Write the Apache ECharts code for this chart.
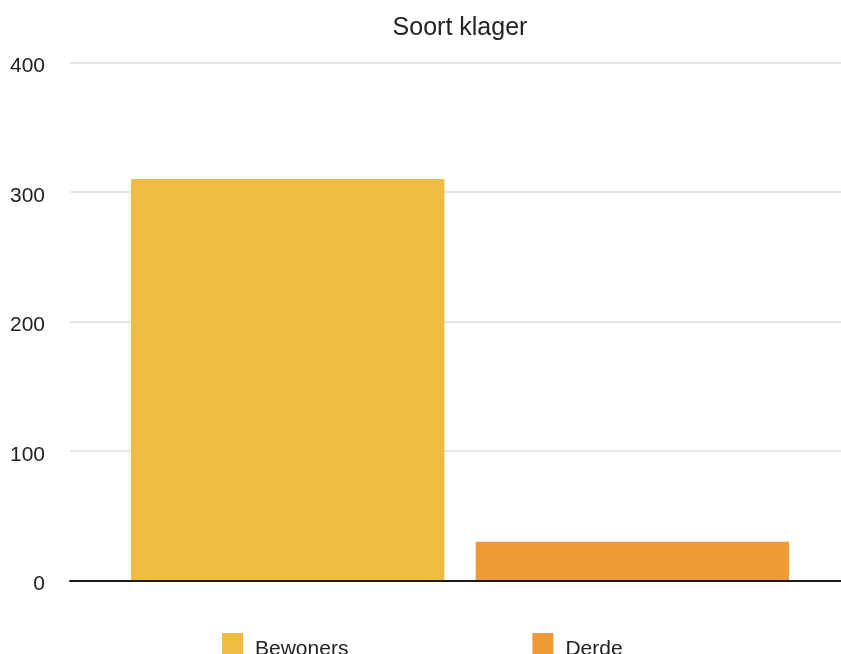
<!DOCTYPE html>
<html>
<head>
<meta charset="utf-8">
<script src="https://cdn.jsdelivr.net/npm/echarts@6/dist/echarts.min.js"></script>
<style>
  html, body { margin: 0; padding: 0; background: #fff; }
  #chart { width: 841px; height: 654px; }
</style>
</head>
<body>
<div id="chart"></div>
<script>
// Complaint counts by type of complainant
const titleText = 'Soort klager';
const categories = ['Soort klager'];
const seriesNames = ['Bewoners', 'Derde'];
const bewonersValues = [310];
const derdeValues = [30];
const seriesColors = ['#EEBD40', '#EF9A37'];
const yTicks = [0, 100, 200, 300, 400];

const font = '"Liberation Sans", Arial, Helvetica, sans-serif';
const yMin = yTicks[0];
const yMax = yTicks[yTicks.length - 1];
const chart = echarts.init(document.getElementById('chart'));

chart.setOption({
  animation: false,
  backgroundColor: '#ffffff',
  title: {
    text: titleText,
    left: 455,
    textAlign: 'center',
    top: 11,
    textStyle: { fontFamily: font, fontSize: 25, fontWeight: 'normal', color: '#222' }
  },
  legend: {
    data: seriesNames,
    left: 217,
    top: 628,
    itemWidth: 21,
    itemHeight: 32,
    itemGap: 184,
    icon: 'rect',
    textStyle: { fontFamily: font, fontSize: 21, color: '#222', padding: [0, 0, 0, 7] }
  },
  // grid 0 carries the value scale, gridlines and baseline; grid 1 holds the bars
  grid: [
    { left: 70, right: 0, top: 62.5, bottom: 73.5, containLabel: false },
    { left: 79, right: 0, top: 62.5, bottom: 73.5, containLabel: false }
  ],
  xAxis: [
    {
      gridIndex: 0,
      type: 'category',
      data: categories,
      z: 10,
      axisLine: { lineStyle: { color: '#1a1a1a', width: 2 } },
      axisTick: { show: false },
      axisLabel: { show: false }
    },
    {
      gridIndex: 1,
      type: 'category',
      data: categories,
      axisLine: { show: false },
      axisTick: { show: false },
      axisLabel: { show: false }
    }
  ],
  yAxis: [
    {
      gridIndex: 0,
      type: 'value',
      min: yMin,
      max: yMax,
      interval: 100,
      axisLine: { show: false },
      axisTick: { show: false },
      axisLabel: {
        margin: 25, fontFamily: font, fontSize: 21, color: '#222',
        verticalAlign: 'top', lineHeight: 8
      },
      splitLine: { lineStyle: { color: '#dcdcdc', width: 1.5 } }
    },
    {
      gridIndex: 1,
      type: 'value',
      min: yMin,
      max: yMax,
      interval: 100,
      axisLine: { show: false },
      axisTick: { show: false },
      axisLabel: { show: false },
      splitLine: { show: false }
    }
  ],
  series: [
    {
      name: seriesNames[0],
      type: 'bar',
      xAxisIndex: 1,
      yAxisIndex: 1,
      data: bewonersValues,
      itemStyle: { color: seriesColors[0] },
      barGap: '10%',
      barCategoryGap: '13.65%'
    },
    {
      name: seriesNames[1],
      type: 'bar',
      xAxisIndex: 1,
      yAxisIndex: 1,
      data: derdeValues,
      itemStyle: { color: seriesColors[1] },
      barGap: '10%',
      barCategoryGap: '13.65%'
    }
  ]
});
</script>
</body>
</html>
